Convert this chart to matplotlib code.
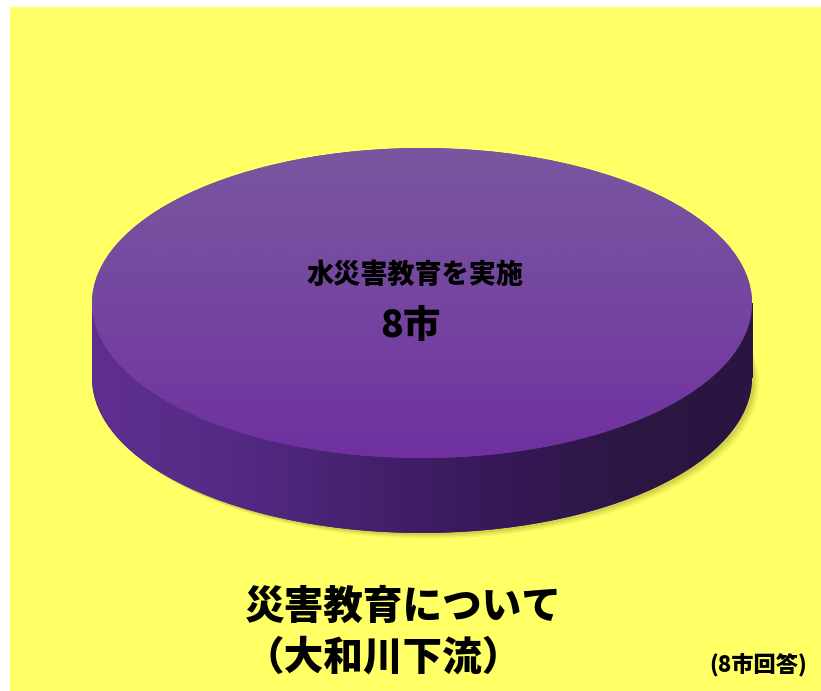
import numpy as np
import matplotlib
matplotlib.use("Agg")
import matplotlib.pyplot as plt
from matplotlib.patches import Rectangle
from matplotlib.colors import LinearSegmentedColormap

plt.rcParams['font.family'] = ['Noto Sans CJK JP', 'DejaVu Sans']

# ---- data ----
categories = ['水災害教育を実施']
values = [8]
unit = '市'
title_lines = ['災害教育について', '（大和川下流）']
note = '(8市回答)'

W, H = 821, 691
fig = plt.figure(figsize=(W / 100, H / 100), dpi=100)
fig.patch.set_facecolor('white')

def fx(px):
    return px / W

def fy(py):
    return 1 - py / H

# yellow background panel
fig.patches.append(Rectangle((fx(10), 0), 1 - fx(10), fy(7), transform=fig.transFigure,
                             facecolor='#FFFF66', edgecolor='none', zorder=-10))

# pie geometry in pixels
left, right, top, face_bottom, side_bottom = 92, 752, 148, 458, 533
b_px = (face_bottom - top) / 2
d = (side_bottom - face_bottom) / b_px  # depth in data units

ax = fig.add_axes([fx(left), fy(side_bottom), (right - left) / W, (side_bottom - top) / H])
ax.set_zorder(1)

def setlims():
    ax.set_aspect('auto')
    ax.set_xlim(-1, 1)
    ax.set_ylim(-1 - d, 1)
    ax.axis('off')

# soft shadow
for off, al in [(0.035, 0.10), (0.025, 0.14), (0.015, 0.18)]:
    sw, _ = ax.pie(values, center=(off * 0.6, -d - off), radius=1, startangle=90,
                   colors=['#8A8A20'], wedgeprops=dict(linewidth=0, alpha=al), frame=False)
    sr = Rectangle((-1 + off * 0.6, -d - off), 2, d, facecolor='#8A8A20', alpha=al,
                   edgecolor='none')
    ax.add_patch(sr)
setlims()

# side of cylinder: bottom wedge + band
side_w, _ = ax.pie(values, center=(0, -d), radius=1, startangle=90,
                   colors=['#44206B'], wedgeprops=dict(linewidth=0), frame=False)
band = Rectangle((-1, -d), 2, d, facecolor='#44206B', edgecolor='none')
ax.add_patch(band)

side_cmap = LinearSegmentedColormap.from_list(
    'side', ['#5F2F90', '#552A86', '#46226F', '#37195A', '#2C1744', '#2A1540'])
grad_x = np.linspace(0, 1, 256).reshape(1, -1)
for patch in (side_w[0], band):
    patch.set_zorder(1.5)
    im = ax.imshow(grad_x, cmap=side_cmap, extent=(-1, 1, -1 - d, 0), aspect='auto',
                   zorder=2, interpolation='bicubic')
    im.set_clip_path(patch)

# top face
top_w, _ = ax.pie(values, center=(0, 0), radius=1, startangle=90,
                  colors=['#7440A0'], wedgeprops=dict(linewidth=0), frame=False)
top_w[0].set_zorder(3)
top_cmap = LinearSegmentedColormap.from_list('top', ['#7A56A0', '#7546A0', '#7030A0'])
grad_y = np.linspace(0, 1, 256).reshape(-1, 1)
im = ax.imshow(grad_y, cmap=top_cmap, extent=(-1, 1, -1, 1), aspect='auto',
               zorder=4, interpolation='bicubic', origin='upper')
im.set_clip_path(top_w[0])
setlims()

# slice labels
ax.text(-0.021, (303 - 275) / b_px, categories[0], ha='center', va='center',
        fontsize=19.5, fontweight='black', color='black', zorder=6)
ax.text(-0.036, (303 - 326) / b_px, f'{values[0]}{unit}', ha='center', va='center',
        fontsize=27, fontweight='black', color='black', zorder=6)

# titles
fig.text(fx(245), fy(607), title_lines[0], ha='left', va='center', fontsize=28.5,
         fontweight='black', color='black')
fig.text(fx(245), fy(658), title_lines[1], ha='left', va='center', fontsize=28.5,
         fontweight='black', color='black')
fig.text(fx(807), fy(666), note, ha='right', va='center', fontsize=16,
         fontweight='black', color='black')

fig.savefig('out.png', dpi=100, facecolor=fig.get_facecolor())
